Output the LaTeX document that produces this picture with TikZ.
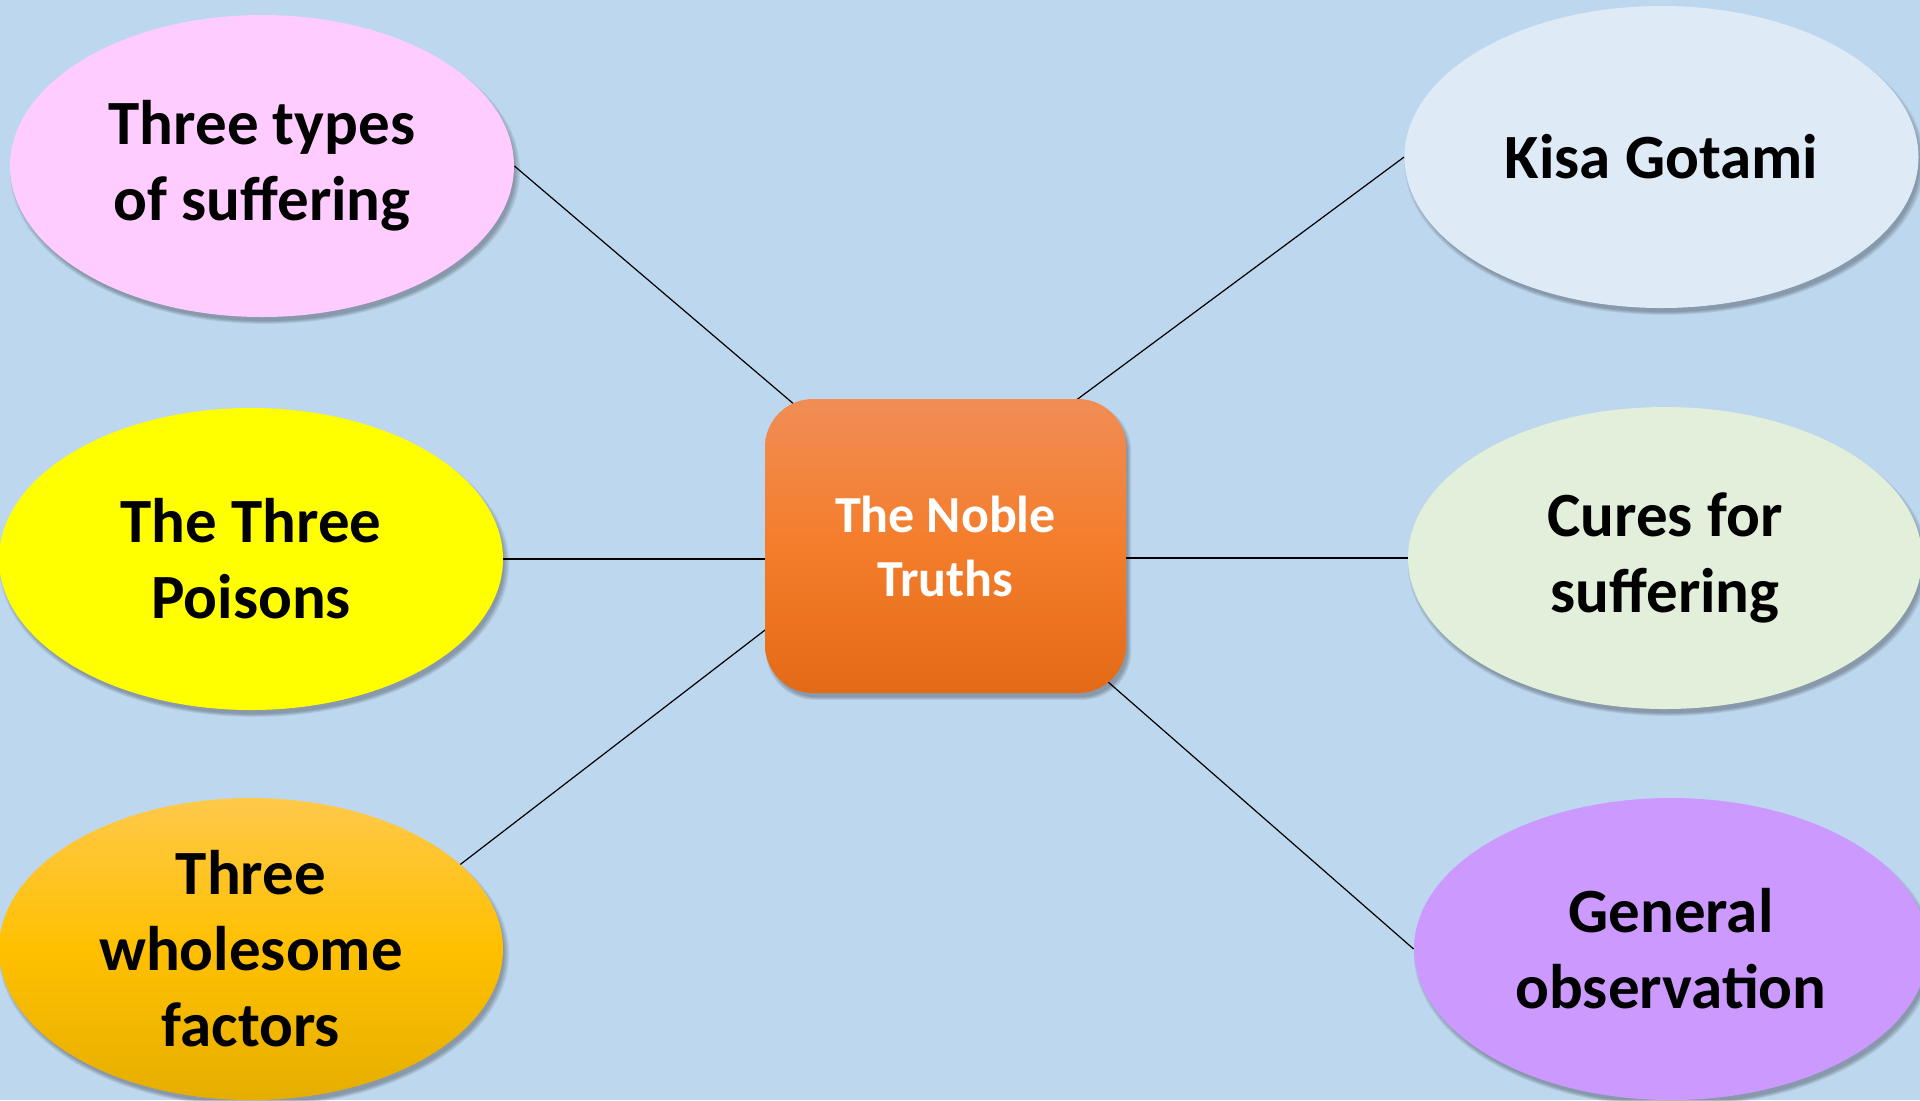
\documentclass[tikz,border=0pt]{standalone}
\usepackage{fontspec}
\setmainfont{Carlito}
\usetikzlibrary{shapes.geometric,shadows,calc}
\pgfdeclarelayer{wires}
\pgfsetlayers{wires,main}

\definecolor{skyblue}{HTML}{BDD7EE}
\definecolor{rosefill}{HTML}{FFCCFF}
\definecolor{lemon}{HTML}{FFFF00}
\definecolor{goldtop}{HTML}{FFC94A}
\definecolor{goldmid}{HTML}{FFC000}
\definecolor{goldbot}{HTML}{E5AE00}
\definecolor{mist}{HTML}{DEEBF7}
\definecolor{sage}{HTML}{E2EFDA}
\definecolor{lilac}{HTML}{CC99FF}
\definecolor{hubtop}{HTML}{F18D55}
\definecolor{hubmid}{HTML}{F47D2B}
\definecolor{hubbot}{HTML}{E36A17}

\begin{document}
\begin{tikzpicture}[x=0.5pt,y=-0.5pt,
  % soft shadow as a stack of slightly scaled translucent copies
  softshadow/.style={
    general shadow={fill=black, opacity=0.08, shadow xshift=1.5pt, shadow yshift=-2.5pt, shadow scale=1.012},
    general shadow={fill=black, opacity=0.08, shadow xshift=1.5pt, shadow yshift=-2.5pt, shadow scale=1.006},
    general shadow={fill=black, opacity=0.08, shadow xshift=1.5pt, shadow yshift=-2.5pt, shadow scale=1.0},
    general shadow={fill=black, opacity=0.08, shadow xshift=1.5pt, shadow yshift=-2.5pt, shadow scale=0.994}},
  bubble/.style={ellipse, minimum width=252pt, minimum height=151pt, inner sep=0pt,
      align=center, font=\fontsize{31.5}{38}\selectfont\bfseries, text=black, softshadow},
  widebubble/.style={bubble, minimum width=257pt},
  hub/.style={rectangle, rounded corners=24pt, minimum width=180.5pt, minimum height=147pt,
      inner sep=0pt, align=center, font=\fontsize{26}{32}\selectfont\bfseries, text=white,
      top color=hubtop, bottom color=hubbot, middle color=hubmid, softshadow},
  wire/.style={line width=0.6pt, draw=black}]

\useasboundingbox (0,0) rectangle (1920,1100);
\begin{pgfonlayer}{wires}
  \fill[skyblue] (0,0) rectangle (1920,1100);
\end{pgfonlayer}

% central box
\node[hub] (hub) at (945.5,546) {The Noble\\Truths};

% surrounding topics
\node[bubble, fill=rosefill] (types) at (262,166) {Three types\\of suffering};
\node[bubble, fill=lemon] (poisons) at (251,559) {The Three\\Poisons};
\node[bubble, top color=goldtop, bottom color=goldbot, middle color=goldmid]
  (wholesome) at (251,949) {Three\\wholesome\\factors};
\node[widebubble, fill=mist] (kisa) at (1661.5,157) {Kisa Gotami};
\node[widebubble, fill=sage] (cures) at (1665,558) {Cures for\\suffering};
\node[widebubble, fill=lilac] (general) at (1671,949) {General\\observation};

% connectors, kept under the shapes; the diagonal ones run on a little
% past the box outline so that they meet its rounded corners
\begin{pgfonlayer}{wires}
  \draw[wire] (types.east) -- ($(types.east)!1.1!(hub.137.6)$);
  \draw[wire] (poisons.east) -- (poisons.east -| hub.west);
  \draw[wire] (wholesome.22.7) -- ($(wholesome.22.7)!1.1!(hub.205.6)$);
  \draw[wire] (kisa.west) -- ($(kisa.west)!1.1!(hub.48)$);
  \draw[wire] (cures.west) -- (cures.west -| hub.east);
  \draw[wire] (general.west) -- ($(general.west)!1.1!(hub.-40.1)$);
\end{pgfonlayer}
\end{tikzpicture}
\end{document}
